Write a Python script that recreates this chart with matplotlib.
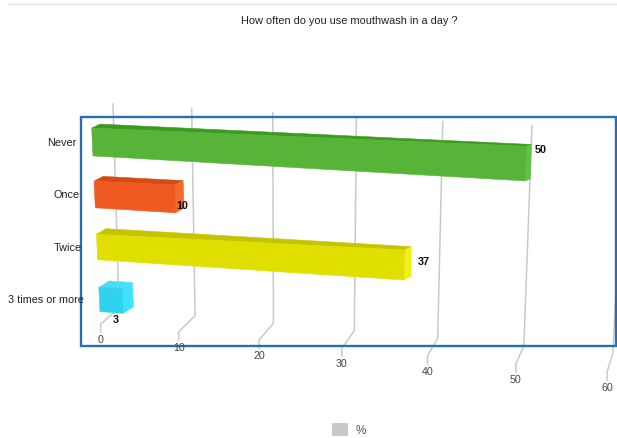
import numpy as np
import matplotlib
matplotlib.use("Agg")
import matplotlib.pyplot as plt
from matplotlib.patches import Polygon, Rectangle

plt.rcParams['font.family'] = ['Liberation Sans', 'DejaVu Sans']

# ---- data -------------------------------------------------------------
title = "How often do you use mouthwash in a day ?"
categories = ["Never", "Once", "Twice", "3 times or more"]
percent = [50, 10, 37, 3]
tick_values = [0, 10, 20, 30, 40, 50, 60]
legend_label = "%"

# ---- styling ----------------------------------------------------------
front_colors = ["#58b438", "#ef5a22", "#e0df00", "#30d3ef"]
top_colors = ["#3d9a1f", "#d64a13", "#c6c400", "#48def6"]
side_colors = ["#62c140", "#f6692c", "#f1f11a", "#3fe1fb"]
label_nudge = [(15, -15), (7.5, 5.7), (20, -3.7), (-7, 17.7)]  # px, value labels
grid_color = "#c9c9c9"
frame_color = "#2a6db5"

W, H = 617, 439
fig = plt.figure(figsize=(W / 100, H / 100), dpi=100)
ax = fig.add_axes([0, 0, 1, 1])
ax.set_xlim(0, W)
ax.set_ylim(H, 0)
ax.axis("off")

# ---- perspective projection of the 3D scene ---------------------------
PERSP = -0.0015


def warp(v):
    """Value axis with perspective foreshortening (right side nearer)."""
    v = np.asarray(v, dtype=float)
    return v / (1.0 + PERSP * v)


ROW0, ROW_STEP = 143.0, 52.5


def row_center(i):
    return ROW0 + ROW_STEP * i


def half_thick(i):
    return 13.9 * (1 - 0.043 * i)


def front_point(v, i, t):
    """Point on the front face of bar i at value v; t=-1 top edge, +1 bottom edge."""
    u = warp(v)
    y0 = row_center(i) + t * half_thick(i)
    x = 91.7 + 0.045 * (y0 - 129) + (8.02 - 0.0017 * (y0 - 143)) * u
    y = row_center(i) + (0.40 + 0.03 * i) * u + t * half_thick(i) * (1 + 0.0045 * u)
    return np.array([x, y])


def depth_shift(v, i, t):
    """Offset from the front face to the back face of a bar."""
    u = warp(v)
    y0 = row_center(i) + t * half_thick(i)
    dx = (8.3 + 0.012 * (y0 - 129)) * (1 - 0.0075 * u)
    dy = -(4 + 0.015 * (y0 - 129)) * (1 - 0.01 * u)
    return np.array([dx, dy])


def grid_path(v):
    """Wall gridline for tick v: up the back wall, then across the floor."""
    u = warp(v)
    top = (113 + 7.75 * u, 105 + 0.44 * v)
    bend = (119 + 7.49 * u, 309.2 + 0.75 * v)
    foot = (100.7 + 7.68 * u, 325 + 0.8 * v)
    drop = (foot[0], foot[1] + 8)
    return [top, bend, foot, drop], (foot[0], foot[1] + 15.5)


# ---- header ------------------------------------------------------------
ax.plot([8, W], [5, 5], color="#e6e6e6", lw=1, zorder=0)
ax.text(349, 21, title, ha="center", va="center", fontsize=7.9, color="#222222")

# ---- gridlines and tick labels ----------------------------------------
for tv in tick_values:
    pts, lab = grid_path(tv)
    xs, ys = zip(*pts)
    ax.plot(xs, ys, color=grid_color, lw=1.1, zorder=1, solid_joinstyle="miter")
    ax.text(lab[0], lab[1], str(tv), ha="center", va="center",
            fontsize=7.7, color="#444444", zorder=6)

# ---- plot frame --------------------------------------------------------
ax.add_patch(Rectangle((81, 118), 535, 229, fill=False, edgecolor=frame_color,
                       lw=1.7, zorder=4))

# ---- 3D bars -------------------------------------------------------------
for i, (cat, val) in enumerate(zip(categories, percent)):
    fTL = front_point(0, i, -1)
    fTR = front_point(val, i, -1)
    fBR = front_point(val, i, 1)
    fBL = front_point(0, i, 1)
    bTL = fTL + depth_shift(0, i, -1)
    bTR = fTR + depth_shift(val, i, -1)
    bBR = fBR + depth_shift(val, i, 1)

    for poly, col in (([fTL, fTR, bTR, bTL], top_colors[i]),
                      ([fTR, fBR, bBR, bTR], side_colors[i]),
                      ([fTL, fTR, fBR, fBL], front_colors[i])):
        ax.add_patch(Polygon(poly, closed=True, facecolor=col, edgecolor=col,
                             lw=0.4, zorder=3))

    mid = (fTR + fBR) / 2
    dx, dy = label_nudge[i]
    ax.text(mid[0] + dx, mid[1] + dy, f"{val}", ha="center", va="center",
            fontsize=7.8, fontweight="bold", color="#111111", zorder=6)

    cx, cy = front_point(0, i, 0)
    ax.text(cx - 15.5, cy, cat, ha="right", va="center", fontsize=7.8,
            color="#222222", zorder=6)

# ---- legend --------------------------------------------------------------
ax.add_patch(Rectangle((332, 424), 16, 13, facecolor="#c9c9c9", edgecolor="none"))
ax.text(356, 431, legend_label, ha="left", va="center", fontsize=8.5, color="#555555")

fig.savefig("out.png", dpi=100)
